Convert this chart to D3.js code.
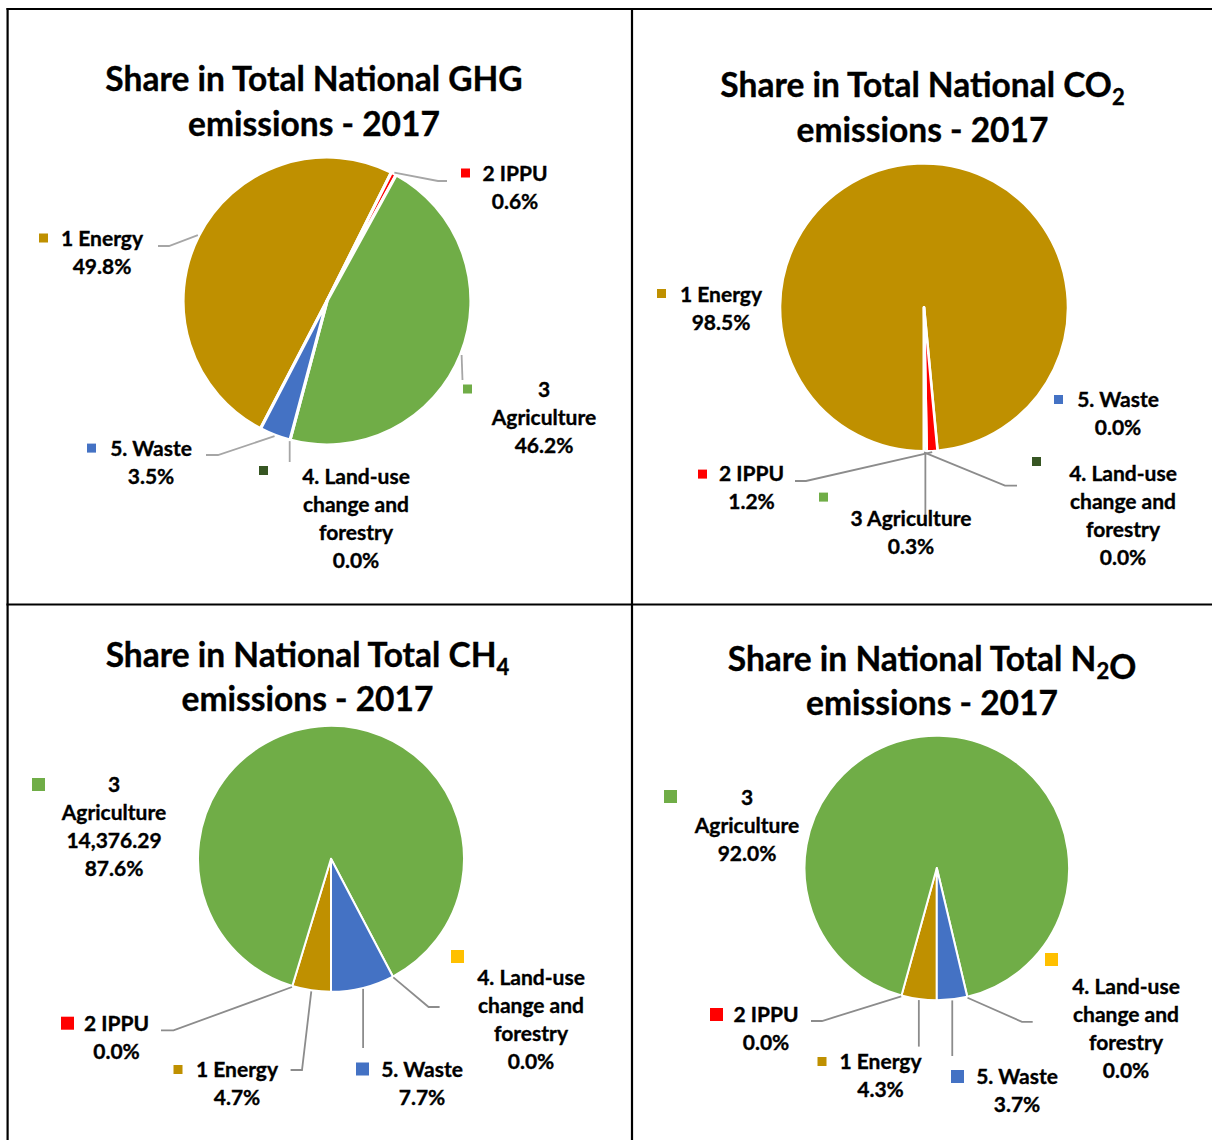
<!DOCTYPE html>
<html>
<head>
<meta charset="utf-8">
<script src="https://cdn.jsdelivr.net/npm/d3@7"></script>
<style>
  body { margin: 0; background: #fff; }
  text { font-family: Lato, "Open Sans", sans-serif; font-weight: 700; fill: #000; stroke: #000; stroke-width: 0.35px; }
</style>
</head>
<body>
<svg id="chart" width="1212" height="1140"></svg>
<script>
// Source categories, in the order the slices are laid out clockwise
const categories = ["1 Energy", "2 IPPU", "3 Agriculture", "4. Land-use change and forestry", "5. Waste"];

// Shares of national totals, 2017 (%)
const ghgShare = [49.8, 0.6, 46.2, 0.0, 3.5];
const co2Share = [98.5, 1.2, 0.3, 0.0, 0.0];
const n2oShare = [4.3, 0.0, 92.0, 0.0, 3.7];
// CH4 emissions by source, 2017 (absolute values; shares computed from the total)
const ch4Emissions = [771.3, 0, 14376.29, 0, 1263.7];

const gasTitles = ["Share in Total National GHG", "Share in Total National CO2", "Share in National Total CH4", "Share in National Total N2O"];
const titleLine2 = "emissions - 2017";

// Slice colours
const colorsTop = ["#BF9000", "#FF0000", "#70AD47", "#375623", "#4472C4"];
const colorsBottom = ["#BF9000", "#FF0000", "#70AD47", "#FFC000", "#4472C4"];

const svg = d3.select("#chart");
svg.append("rect").attr("width", 1212).attr("height", 1140).attr("fill", "#fff");

// Panel grid lines
const grid = svg.append("g").attr("stroke", "#000").attr("stroke-width", 2.2);
grid.append("line").attr("x1", 6.5).attr("x2", 1212).attr("y1", 9).attr("y2", 9);
grid.append("line").attr("x1", 7.6).attr("x2", 7.6).attr("y1", 8).attr("y2", 1140);
grid.append("line").attr("x1", 632).attr("x2", 632).attr("y1", 8).attr("y2", 1140);
grid.append("line").attr("x1", 6.5).attr("x2", 1212).attr("y1", 604.5).attr("y2", 604.5);

const pctFmt = v => d3.format(".1f")(v) + "%";

const panels = [
  {
    title: gasTitles[0], values: ghgShare, colors: colorsTop, mode: "share",
    cx: 327, cy: 301, r: 144, start: 207.5, gap: 3.2, leaderColor: "#a6a6a6",
    titleX: 314, titleY: [91.4, 136],
    labels: [
      { i: 0, marker: [39, 233.5, 9], x: 102, y: 246, words: [2], leader: [[169, 246], [158, 246]] },
      { i: 1, marker: [461, 168.5, 9], x: 515, y: 181, words: [2], leader: [[438, 181], [447, 181]] },
      { i: 2, marker: [463, 384.5, 9], x: 544, y: 397, words: [1, 1], leader: [[462.5, 380]] },
      { i: 3, marker: [259, 466, 9], x: 356, y: 484, words: [2, 2, 1], leader: [[null, 462]] },
      { i: 4, marker: [87, 443.6, 9], x: 151, y: 456, words: [2], leader: [[218, 455], [206, 455]] }
    ]
  },
  {
    title: gasTitles[1], values: co2Share, colors: colorsTop, mode: "share",
    cx: 924, cy: 307.4, r: 144, start: 180, gap: 2.6, leaderColor: "#8c8c8c",
    titleX: 922.5, titleY: [97, 142],
    labels: [
      { i: 0, marker: [657, 289, 9], x: 721, y: 301.5, words: [2], leader: null },
      { i: 1, marker: [698, 469.6, 9], x: 751.5, y: 481, words: [2], leader: [[806, 481], [795, 481]] },
      { i: 2, marker: [819, 492.6, 9], x: 911, y: 526, words: [2], leader: [[null, 521]] },
      { i: 3, marker: [1032, 457, 9], x: 1123, y: 481, words: [2, 2, 1], leader: [[1005, 485.6], [1017, 485.6]] },
      { i: 4, marker: [1054, 395, 9], x: 1118, y: 406.6, words: [2], leader: null }
    ]
  },
  {
    title: gasTitles[2], values: ch4Emissions, colors: colorsBottom, mode: "value",
    cx: 331, cy: 858.8, r: 133, start: 180, gap: 2, leaderColor: "#8c8c8c",
    titleX: 307.5, titleY: [667, 711],
    labels: [
      { i: 0, marker: [173.5, 1065, 9], x: 237, y: 1077, words: [2], leader: [[302, 1070], [290.6, 1070]] },
      { i: 1, marker: [61, 1016.7, 13], x: 116.5, y: 1030.5, words: [2], leader: [[173.5, 1030.4], [161, 1030.4]] },
      { i: 2, marker: [32, 778, 13], x: 114, y: 791.8, words: [1, 1], showValue: true, leader: null },
      { i: 3, marker: [451, 950, 13], x: 531, y: 985, words: [2, 2, 1], leader: [[428.6, 1007], [439.6, 1007]] },
      { i: 4, marker: [356, 1062.5, 13], x: 422, y: 1077, words: [2], leader: [[null, 1048]] }
    ]
  },
  {
    title: gasTitles[3], values: n2oShare, colors: colorsBottom, mode: "share",
    cx: 936.8, cy: 868, r: 132.3, start: 180, gap: 2, leaderColor: "#8c8c8c",
    titleX: 932, titleY: [670.6, 714.7],
    labels: [
      { i: 0, marker: [817.5, 1057, 9], x: 880.5, y: 1069, words: [2], leader: [[null, 1046.6]] },
      { i: 1, marker: [710, 1008, 13], x: 766, y: 1022, words: [2], leader: [[822, 1021], [811, 1021]] },
      { i: 2, marker: [664, 790, 13], x: 747, y: 805, words: [1, 1], leader: null },
      { i: 3, marker: [1045, 953, 13], x: 1126, y: 994, words: [2, 2, 1], leader: [[1022, 1021.8], [1032.7, 1021.8]] },
      { i: 4, marker: [951, 1070, 13], x: 1017, y: 1084, words: [2], leader: [[null, 1056]] }
    ]
  }
];

const LINE_H = 28;
const TITLE_SIZE = 33.5;
const LABEL_SIZE = 21;

// Title text where digits after the gas letters are set as subscripts
function drawTitle(g, str, x, y) {
  const t = g.append("text").attr("x", x).attr("y", y).attr("text-anchor", "middle")
    .style("font-size", TITLE_SIZE + "px");
  const parts = str.match(/(\d+|[^\d]+)/g);
  parts.forEach((p, k) => {
    if (/^\d+$/.test(p) && k > 0) {
      t.append("tspan").attr("dy", 8).style("font-size", "22px").text(p);
      if (k < parts.length - 1) t.append("tspan").attr("dy", -8).text("");
    } else {
      t.append("tspan").text(p);
    }
  });
  return t;
}

function splitWords(name, counts) {
  const w = name.split(" ");
  const out = [];
  let k = 0;
  counts.forEach(c => { out.push(w.slice(k, k + c).join(" ")); k += c; });
  return out;
}

panels.forEach(p => {
  const g = svg.append("g");
  const rows = categories.map((c, i) => ({ name: c, value: p.values[i], i }));
  const total = d3.sum(p.values);

  const a0 = p.start * Math.PI / 180;
  const pie = d3.pie().sort(null).value(d => d.value).startAngle(a0).endAngle(a0 + 2 * Math.PI);
  const arcs = pie(rows);
  const arc = d3.arc().innerRadius(0).outerRadius(p.r);
  const edge = d3.arc().innerRadius(p.r + 1).outerRadius(p.r + 1);

  // Title
  drawTitle(g, p.title, p.titleX, p.titleY[0]);
  g.append("text").attr("x", p.titleX).attr("y", p.titleY[1]).attr("text-anchor", "middle")
    .style("font-size", TITLE_SIZE + "px").text(titleLine2);

  // Slices
  const pg = g.append("g").attr("transform", `translate(${p.cx},${p.cy})`);
  pg.selectAll("path").data(arcs.filter(d => d.value > 0)).join("path")
    .attr("d", arc)
    .attr("fill", d => p.colors[d.data.i])
    .attr("stroke", "#fff").attr("stroke-width", p.gap).attr("stroke-linejoin", "round");

  // Leader lines, data labels and legend keys
  p.labels.forEach(L => {
    const d = arcs[L.i];
    if (L.leader) {
      const [sx, sy] = edge.centroid(d);
      const pts = [[p.cx + sx, p.cy + sy]];
      L.leader.forEach(([x, y]) => pts.push([x === null ? p.cx + sx : x, y]));
      g.append("path").attr("d", d3.line()(pts))
        .attr("fill", "none").attr("stroke", p.leaderColor).attr("stroke-width", 1.8);
    }
    const [mx, my, ms] = L.marker;
    g.append("rect").attr("x", mx).attr("y", my).attr("width", ms).attr("height", ms)
      .attr("fill", p.colors[L.i]);

    const lines = splitWords(d.data.name, L.words);
    if (L.showValue) lines.push(d3.format(",.2f")(d.value));
    lines.push(p.mode === "share" ? pctFmt(d.value) : d3.format(".1%")(d.value / total));
    lines.forEach((t, k) => {
      g.append("text").attr("x", L.x).attr("y", L.y + k * LINE_H)
        .attr("text-anchor", "middle").style("font-size", LABEL_SIZE + "px").text(t);
    });
  });
});
</script>
</body>
</html>
